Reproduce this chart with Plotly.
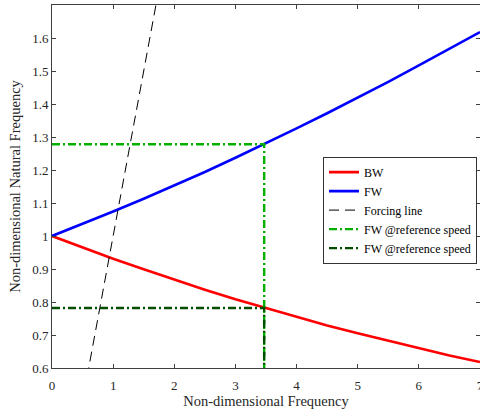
import plotly.graph_objects as go

# Non-dimensional frequency samples
freq = [0.0, 0.5, 1.0, 1.5, 2.0, 2.5, 3.0, 3.5, 4.0, 4.5, 5.0, 5.5, 6.0, 6.5, 7.0]
# Backward whirl natural frequency
bw = [1.0, 0.965, 0.931, 0.899, 0.867, 0.837, 0.808, 0.781, 0.754, 0.729, 0.705, 0.682, 0.659, 0.638, 0.618]
# Forward whirl natural frequency
fw = [1.0, 1.036, 1.074, 1.113, 1.153, 1.194, 1.237, 1.281, 1.326, 1.372, 1.419, 1.467, 1.517, 1.567, 1.618]
# Forcing line
forcing_x = [0.0, 1.75]
forcing_y = [0.0, 1.75]
# Reference speed markers
ref_speed = 3.47
fw_ref = 1.278
bw_ref = 0.782
y_floor = 0.6

font_family = "Liberation Serif"

fig = go.Figure()
fig.add_trace(go.Scatter(x=freq, y=bw, mode="lines", name="BW",
                         line=dict(color="#ff0000", width=2.6)))
fig.add_trace(go.Scatter(x=freq, y=fw, mode="lines", name="FW",
                         line=dict(color="#0000ff", width=2.6)))
fig.add_trace(go.Scatter(x=forcing_x, y=forcing_y, mode="lines", name="Forcing line",
                         line=dict(color="#000000", width=1, dash="10px,6px")))
fig.add_trace(go.Scatter(x=[0, ref_speed, ref_speed], y=[fw_ref, fw_ref, y_floor], mode="lines",
                         name="FW @reference speed",
                         line=dict(color="#00b000", width=2.4, dash="8px,3px,2px,3px")))
fig.add_trace(go.Scatter(x=[0, ref_speed, ref_speed], y=[bw_ref, bw_ref, y_floor], mode="lines",
                         name="FW @reference speed",
                         line=dict(color="#004d00", width=2.4, dash="8px,3px,2px,3px")))

axis_common = dict(showgrid=False, zeroline=False, showline=True, linecolor="#404040",
                   linewidth=1, mirror="ticks", ticks="inside", ticklen=4,
                   tickcolor="#404040", tickfont=dict(family=font_family, size=13, color="#262626"))

fig.update_xaxes(range=[0, 7], tickvals=[0, 1, 2, 3, 4, 5, 6, 7],
                 title=dict(text="Non-dimensional Frequency", standoff=4,
                            font=dict(family=font_family, size=14.5, color="#262626")),
                 ticklabelstandoff=5, ticklabeloverflow="allow", automargin=False,
                 **axis_common)
fig.update_yaxes(range=[0.6, 1.7], tickvals=[0.6, 0.7, 0.8, 0.9, 1.0, 1.1, 1.2, 1.3, 1.4, 1.5, 1.6],
                 title=dict(text="Non-dimensional Natural Frequency", standoff=8,
                            font=dict(family=font_family, size=14.5, color="#262626")),
                 **axis_common)

fig.update_layout(
    width=480, height=415,
    margin=dict(l=52, r=0, t=5, b=47),
    plot_bgcolor="white", paper_bgcolor="white",
    font=dict(family=font_family, color="#000000"),
    legend=dict(x=0.993, y=0.435, xanchor="right", yanchor="middle",
                bgcolor="white", bordercolor="#333333", borderwidth=1,
                font=dict(family=font_family, size=12, color="#000000"),
                itemwidth=30, tracegroupgap=0),
    showlegend=True,
)

fig.write_html("out.html")
